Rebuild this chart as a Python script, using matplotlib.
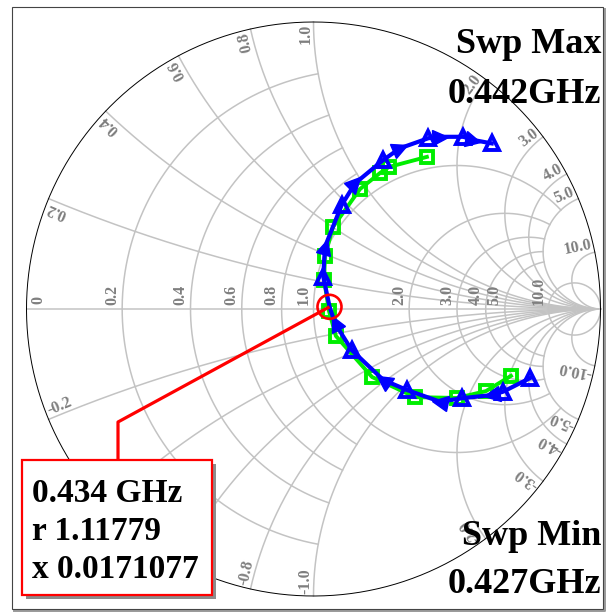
import numpy as np
import matplotlib
matplotlib.use("Agg")
import matplotlib.pyplot as plt
from matplotlib.markers import MarkerStyle
from matplotlib.transforms import Affine2D
from matplotlib.patches import Circle, Rectangle

plt.rcParams['font.family'] = ['Liberation Serif', 'DejaVu Serif']

# ---------------- data (reflection coefficient) ----------------
blue_re = [0.754, 0.661, 0.621, 0.516, 0.441, 0.325, 0.243, 0.133, 0.075, 0.056,
           0.034, 0.040, 0.098, 0.145, 0.243, 0.301, 0.400, 0.441, 0.522, 0.556, 0.621]
blue_im = [-0.241, -0.288, -0.300, -0.311, -0.323, -0.282, -0.247, -0.143, -0.050, 0.008,
           0.113, 0.217, 0.362, 0.438, 0.519, 0.560, 0.595, 0.600, 0.600, 0.589, 0.577]
blue_kind = ['tri', 'tri', 'arrow', 'tri', 'arrow', 'tri', 'arrow', 'tri', 'arrow', 'none',
             'tri', 'arrow', 'tri', 'arrow', 'tri', 'arrow', 'tri', 'arrow', 'tri', 'arrow', 'tri']

green_re = [0.688, 0.601, 0.500, 0.354, 0.204, 0.078, 0.054, 0.037, 0.040, 0.068,
            0.162, 0.232, 0.263, 0.395]
green_im = [-0.233, -0.286, -0.310, -0.307, -0.237, -0.094, -0.007, 0.101, 0.185, 0.286,
            0.418, 0.474, 0.495, 0.530]

r_grid = [0.2, 0.4, 0.6, 0.8, 1.0, 2.0, 3.0, 4.0, 5.0, 10.0]
r_grid_xmax = [1.0, 1.0, 1.0, 1.0, 5.0, 5.0, 5.0, 5.0, 5.0, np.inf]
r_labels = ['0.2', '0.4', '0.6', '0.8', '1.0', '2.0', '3.0', '4.0', '5.0', '10.0']
x_grid = [0.2, 0.4, 0.6, 0.8, 1.0, 2.0, 3.0, 4.0, 5.0, 10.0]
x_labels = ['0.2', '0.4', '0.6', '0.8', '1.0', '2.0', '3.0', '4.0', '5.0', '10.0']

marker_freq = '0.434 GHz'
marker_r = 1.11779
marker_x = 0.0171077
swp_max = '0.442GHz'
swp_min = '0.427GHz'

# ---------------- layout ----------------
W, H, DPI = 616, 612, 100
CX, CY, RAD = 313.5, 309.0, 287.0
GRID = '#c3c3c3'
LAB = '#7f7f7f'
BLUE = '#0000ff'
GREEN = '#00ee00'

fig = plt.figure(figsize=(W / DPI, H / DPI), dpi=DPI)
ax = fig.add_axes([0, 0, 1, 1])
ax.set_xlim(0, W)
ax.set_ylim(H, 0)
ax.axis('off')

smith = Affine2D().scale(RAD, -RAD).translate(CX, CY) + ax.transData


def gam(z):
    return (z - 1) / (z + 1)


def to_pix(g):
    return CX + RAD * g.real, CY - RAD * g.imag


# grid: resistance circles
for r, xm in zip(r_grid, r_grid_xmax):
    umax = np.arctan(xm) if np.isfinite(xm) else np.pi / 2 - 1e-4
    u = np.linspace(-umax, umax, 1500)
    g = gam(r + 1j * np.tan(u))
    ax.plot(g.real, g.imag, color=GRID, lw=1.1, transform=smith, zorder=1)

# grid: reactance arcs
for xv in x_grid:
    u = np.linspace(0, np.pi / 2 - 1e-4, 1500)
    for s in (1, -1):
        g = gam(np.tan(u) + 1j * s * xv)
        ax.plot(g.real, g.imag, color=GRID, lw=1.1, transform=smith, zorder=1)

# real axis
ax.plot([-1, 1], [0, 0], color=GRID, lw=1.1, transform=smith, zorder=1)

# outer circle
th = np.linspace(0, 2 * np.pi, 800)
ax.plot(np.cos(th), np.sin(th), color='black', lw=0.7, transform=smith, zorder=2)

lab_kw = dict(color=LAB, fontsize=11.5, fontweight='bold', rotation_mode='anchor', zorder=2)

# real-axis labels
px0, py0 = to_pix(gam(0.0 + 0j))
ax.text(px0 + 4, CY - 5, '0', rotation=90, ha='left', va='top', **lab_kw)
for r, lab in zip(r_grid, r_labels):
    px, py = to_pix(gam(r + 0j))
    ax.text(px - 2, CY - 4, lab, rotation=90, ha='left', va='bottom', **lab_kw)

# reactance labels at the rim
for xv, lab in zip(x_grid, x_labels):
    for s in (1, -1):
        g = gam(0 + 1j * s * xv)
        ang = np.degrees(np.angle(g))
        gi = g * (1 - 2.0 / RAD)
        px, py = to_pix(gi)
        if s > 0:
            ax.text(px, py, lab, rotation=ang, ha='right', va='bottom', **lab_kw)
        else:
            ax.text(px, py, '-' + lab, rotation=ang + 180, ha='left', va='bottom', **lab_kw)

# ---------------- traces ----------------
ax.plot(green_re, green_im, color=GREEN, lw=2.8, transform=smith, zorder=3,
        marker='s', ms=9, mfc='none', mec=GREEN, mew=2.8)

bre = np.array(blue_re)
bim = np.array(blue_im)
ax.plot(bre, bim, color=BLUE, lw=3.0, transform=smith, zorder=4)
for i, k in enumerate(blue_kind):
    if k == 'tri':
        ax.plot([bre[i]], [bim[i]], marker='^', ms=10.5, mfc='none', mec=BLUE,
                mew=2.8, transform=smith, zorder=5)
    elif k == 'arrow':
        d = complex(bre[i + 1] - bre[i - 1], bim[i + 1] - bim[i - 1])
        ang = np.degrees(np.angle(d))
        ms_ = MarkerStyle('>', transform=Affine2D().rotate_deg(ang))
        ax.plot([bre[i]], [bim[i]], marker=ms_, ms=11, color=BLUE,
                transform=smith, zorder=5)

# ---------------- marker & readout ----------------
gm = gam(marker_r + 1j * marker_x)
mx, my = to_pix(gm)
ax.add_patch(Circle((mx, my), 12, fill=False, ec='red', lw=1.9, zorder=6))
ax.plot([mx, 118, 118], [my, 422, 460], color='red', lw=2.3, zorder=6,
        solid_capstyle='butt')

ax.add_patch(Rectangle((26, 464), 190, 135, fc='#8c8c8c', ec='none', zorder=7))
ax.add_patch(Rectangle((22, 460), 190, 135, fc='white', ec='red', lw=1.6, zorder=8))
box_lines = [marker_freq, 'r %g' % marker_r, 'x %g' % marker_x]
for j, t in enumerate(box_lines):
    ax.text(32, 502 + 38 * j, t, fontsize=24, fontweight='bold', color='black',
            ha='left', va='baseline', zorder=9)

# ---------------- sweep labels ----------------
big = dict(fontsize=26, fontweight='bold', color='black', ha='right', va='baseline', zorder=9)
ax.text(601, 53, 'Swp Max', **big)
ax.text(601, 103, swp_max, **big)
ax.text(601, 545, 'Swp Min', **big)
ax.text(601, 593, swp_min, **big)

# ---------------- frame ----------------
ax.plot([605, 605, 14], [9, 611, 611], color='#9a9a9a', lw=1.4, zorder=10)
ax.add_patch(Rectangle((12, 7), 591, 602, fill=False, ec='#444444', lw=0.8, zorder=10))

fig.savefig('out.png', dpi=DPI)
